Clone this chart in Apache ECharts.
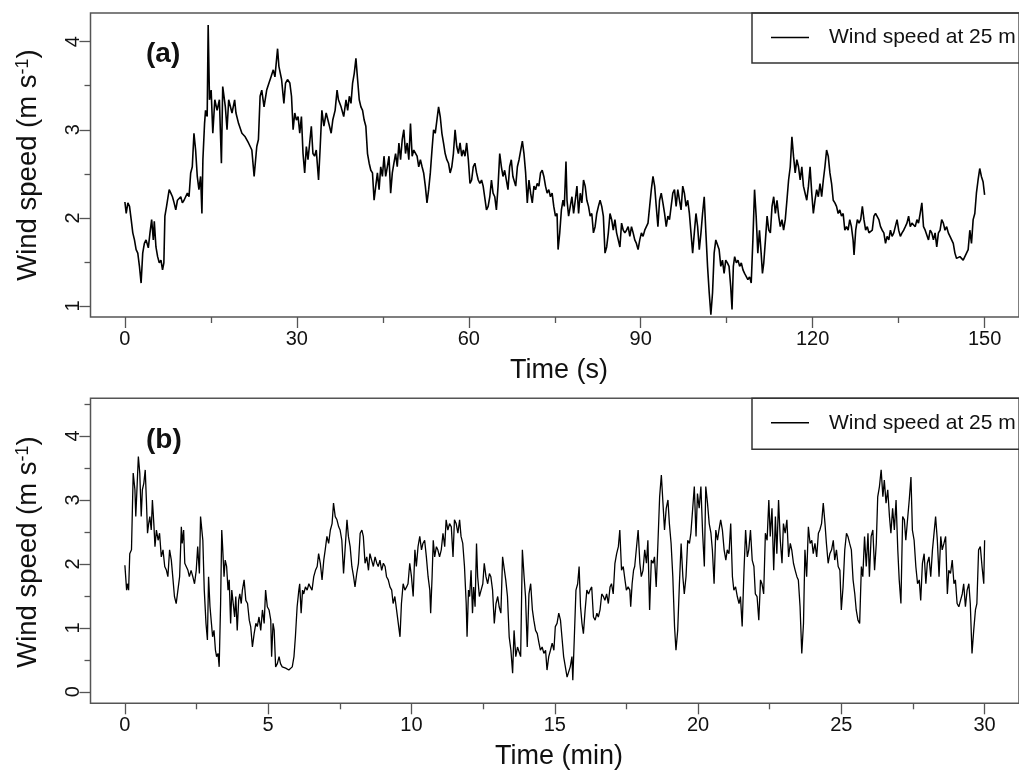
<!DOCTYPE html>
<html>
<head>
<meta charset="utf-8">
<script src="https://cdn.jsdelivr.net/npm/echarts@6/dist/echarts.min.js"></script>
<style>html,body{margin:0;padding:0;background:#fff;}#chart{width:1019px;height:770px;}</style>
</head>
<body>
<div id="chart"></div>
<script>
// ---------- data ----------
const legendName = 'Wind speed at 25 m';
const panelLabels = ['(a)', '(b)'];
const xTitles = ['Time (s)', 'Time (min)'];
const xTicksA = [0, 30, 60, 90, 120, 150];
const xMinorA = [15, 45, 75, 105, 135];
const yTicksA = [1, 2, 3, 4];
const yMinorA = [1.5, 2.5, 3.5];
const xTicksB = [0, 5, 10, 15, 20, 25, 30];
const xMinorB = [2.5, 7.5, 12.5, 17.5, 22.5, 27.5];
const yTicksB = [0, 1, 2, 3, 4];
const yMinorB = [0.5, 1.5, 2.5, 3.5, 4.5];

// panel (a): [time s, wind speed m/s]
const seriesA = [
[0,2.18],[0.23,2.05],[0.52,2.17],[0.81,2.13],[1.1,1.98],[1.38,1.83],[1.67,1.75],[1.96,1.64],[2.25,1.60],[2.54,1.45],
[2.83,1.26],[3.11,1.60],[3.4,1.71],[3.69,1.75],[4.09,1.66],[4.38,1.83],[4.67,1.98],[4.96,1.75],[5.13,1.96],[5.42,1.67],
[5.71,1.56],[6.0,1.49],[6.29,1.52],[6.57,1.41],[6.8,1.49],[6.98,2.02],[7.27,2.13],[7.44,2.20],[7.73,2.32],[8.02,2.28],
[8.3,2.24],[8.59,2.17],[8.88,2.09],[9.17,2.20],[9.46,2.19],[9.75,2.24],[10.03,2.17],[10.32,2.20],[10.61,2.20],[10.9,2.28],
[11.19,2.24],[11.48,2.51],[11.76,2.58],[12.05,2.96],[12.34,2.77],[12.63,2.47],[12.92,2.32],[13.21,2.47],[13.44,2.05],[13.61,2.66],
[13.9,3.07],[14.07,3.22],[14.36,3.15],[14.53,4.19],[14.76,3.34],[15.05,3.45],[15.34,2.96],[15.69,3.34],[16.09,3.22],[16.49,3.34],
[16.84,2.62],[17.07,3.49],[17.53,3.26],[17.82,3.00],[18.11,3.34],[18.69,3.19],[19.15,3.34],[19.38,3.19],[19.84,3.07],[20.42,2.96],
[20.99,2.92],[21.57,2.85],[22.15,2.77],[22.55,2.47],[23.01,2.81],[23.3,2.89],[23.59,3.38],[23.88,3.45],[24.28,3.26],[24.74,3.45],
[25.14,3.53],[25.49,3.60],[25.89,3.68],[26.18,3.60],[26.64,3.92],[26.87,3.72],[27.34,3.57],[27.74,3.30],[28.03,3.53],[28.37,3.57],
[28.78,3.53],[29.07,3.38],[29.35,3.00],[29.64,3.19],[29.93,3.11],[30.22,3.15],[30.51,2.96],[30.8,3.15],[31.08,2.73],[31.37,2.51],
[31.66,2.81],[31.95,2.66],[32.24,2.85],[32.53,3.04],[32.81,2.73],[33.1,2.70],[33.39,2.77],[33.79,2.43],[34.08,2.81],[34.37,3.22],
[34.72,3.04],[35.12,3.19],[35.7,3.04],[35.99,2.96],[36.27,3.11],[36.68,3.22],[37.02,3.45],[37.26,3.34],[37.72,3.26],[38.18,3.15],
[38.58,3.34],[38.87,3.22],[39.16,3.38],[39.45,3.30],[39.73,3.53],[40.02,3.64],[40.31,3.81],[40.6,3.57],[40.89,3.34],[41.18,3.26],
[41.47,3.22],[41.75,3.11],[42.04,3.04],[42.33,2.73],[42.62,2.62],[42.91,2.54],[43.2,2.51],[43.48,2.20],[43.77,2.36],[44.06,2.51],
[44.35,2.32],[44.64,2.58],[44.93,2.47],[45.21,2.70],[45.5,2.47],[45.79,2.58],[46.08,2.70],[46.37,2.28],[46.66,2.51],[46.94,2.62],
[47.23,2.73],[47.52,2.58],[47.81,2.85],[48.1,2.66],[48.39,2.89],[48.67,3.00],[48.96,2.73],[49.25,2.85],[49.54,2.66],[49.83,3.07],
[50.12,2.70],[50.4,2.77],[50.98,2.70],[51.27,2.58],[51.56,2.66],[51.85,2.58],[52.13,2.51],[52.42,2.36],[52.71,2.17],[53.0,2.32],
[53.29,2.51],[53.58,2.77],[53.86,3.00],[54.15,2.96],[54.44,3.11],[54.73,3.26],[55.02,3.15],[55.31,2.96],[55.59,2.85],[55.88,2.73],
[56.17,2.66],[56.46,2.62],[56.75,2.51],[57.04,2.58],[57.32,2.73],[57.61,3.00],[57.9,2.81],[58.19,2.73],[58.48,2.85],[58.77,2.70],
[59.05,2.77],[59.34,2.70],[59.63,2.85],[59.92,2.66],[60.21,2.39],[60.5,2.43],[60.78,2.58],[61.07,2.62],[61.36,2.51],[61.65,2.43],
[61.94,2.39],[62.23,2.43],[62.51,2.36],[62.8,2.36],[63.09,2.09],[63.38,2.13],[63.67,2.24],[63.96,2.43],[64.24,2.28],[64.53,2.24],
[64.82,2.09],[65.11,2.36],[65.4,2.73],[65.69,2.58],[65.97,2.47],[66.26,2.54],[66.55,2.43],[66.84,2.32],[67.13,2.58],[67.42,2.66],
[67.7,2.47],[68.19,2.36],[68.48,2.58],[68.77,2.66],[69.06,2.66],[69.35,2.87],[69.63,2.73],[69.92,2.51],[70.21,2.17],[70.5,2.43],
[70.79,2.28],[71.08,2.17],[71.37,2.36],[71.65,2.32],[71.94,2.39],[72.23,2.36],[72.52,2.51],[72.81,2.54],[73.1,2.47],[73.39,2.36],
[73.67,2.28],[73.96,2.32],[74.25,2.24],[74.54,2.28],[74.83,2.13],[75.12,2.02],[75.4,2.05],[75.58,1.64],[75.87,1.83],[76.16,2.09],
[76.44,2.20],[76.67,2.13],[76.96,2.64],[77.14,2.20],[77.42,2.02],[77.71,2.13],[78.0,2.24],[78.29,2.05],[78.58,2.20],[78.87,2.36],
[79.16,2.05],[79.45,2.28],[79.73,2.17],[80.02,2.43],[80.31,2.36],[80.6,2.20],[80.89,2.13],[81.18,2.02],[81.46,2.05],[81.75,1.83],
[82.04,1.90],[82.33,2.05],[82.62,2.13],[82.91,2.20],[83.2,2.13],[83.48,2.02],[83.77,1.60],[84.06,1.67],[84.35,1.83],[84.64,2.05],
[84.93,1.98],[85.21,1.86],[85.5,1.98],[85.79,1.83],[86.08,1.75],[86.37,1.67],[86.66,1.94],[86.95,1.86],[87.23,1.83],[87.52,1.86],
[87.81,1.90],[88.1,1.79],[88.39,1.90],[88.68,1.83],[88.96,1.75],[89.25,1.71],[89.54,1.64],[89.83,1.75],[90.12,1.83],[90.41,1.79],
[90.7,1.86],[90.98,1.86],[91.27,1.94],[91.56,2.13],[91.85,2.32],[92.14,2.47],[92.43,2.36],[92.71,2.13],[93.0,1.90],[93.29,2.20],
[93.58,2.28],[93.87,2.17],[94.16,2.05],[94.45,1.90],[94.74,2.02],[95.02,1.98],[95.31,2.13],[95.6,2.28],[95.89,2.32],[96.18,2.13],
[96.47,2.32],[96.76,2.20],[97.04,2.09],[97.33,2.36],[97.62,2.28],[97.91,2.13],[98.2,2.20],[98.49,2.05],[98.77,1.83],[99.06,1.60],
[99.35,1.83],[99.64,2.05],[99.93,1.90],[100.22,1.64],[100.51,1.83],[100.79,2.05],[101.08,2.24],[101.37,1.83],[101.66,1.45],[101.95,1.15],
[102.24,0.90],[102.53,1.15],[102.81,1.60],[103.1,1.75],[103.39,1.75],[103.68,1.64],[103.97,1.45],[104.26,1.52],[104.55,1.37],[104.83,1.52],
[105.12,1.49],[105.41,1.45],[105.7,1.22],[105.93,0.96],[106.16,1.45],[106.39,1.56],[106.68,1.49],[106.97,1.52],[107.26,1.45],[107.55,1.49],
[107.84,1.41],[108.12,1.37],[108.41,1.37],[108.7,1.30],[108.99,1.33],[109.28,1.26],[109.57,1.75],[109.86,2.32],[110.14,2.02],[110.43,1.60],
[110.72,1.86],[111.01,1.60],[111.24,1.37],[111.47,1.49],[111.76,1.75],[112.05,2.02],[112.34,1.86],[112.62,1.83],[112.91,2.13],[113.2,2.24],
[113.49,2.05],[113.78,2.20],[114.07,2.02],[114.35,1.90],[114.64,1.98],[114.93,1.86],[115.22,1.98],[115.51,2.20],[115.8,2.43],[116.09,2.58],
[116.38,2.92],[116.66,2.70],[116.95,2.51],[117.24,2.66],[117.53,2.58],[117.82,2.43],[118.11,2.58],[118.39,2.36],[118.68,2.28],[118.97,2.20],
[119.26,2.36],[119.55,2.58],[119.84,2.28],[120.12,2.05],[120.41,2.20],[120.7,2.32],[120.99,2.24],[121.28,2.39],[121.57,2.24],[121.86,2.43],
[122.14,2.58],[122.43,2.77],[122.72,2.70],[123.01,2.51],[123.3,2.39],[123.59,2.20],[123.88,2.17],[124.16,2.13],[124.45,2.05],[124.74,2.09],
[125.03,2.02],[125.32,2.05],[125.61,1.86],[125.9,1.90],[126.18,1.86],[126.47,1.98],[126.76,1.90],[127.05,1.75],[127.22,1.58],[127.51,1.86],
[127.8,1.98],[128.09,1.94],[128.38,1.98],[128.67,2.13],[128.95,1.98],[129.24,1.86],[129.53,1.90],[129.82,1.83],[130.11,1.83],[130.4,1.86],
[130.69,2.02],[130.97,2.05],[131.26,2.05],[131.55,1.98],[131.84,1.90],[132.13,1.86],[132.42,1.83],[132.71,1.71],[132.99,1.79],[133.28,1.75],
[133.57,1.86],[133.86,1.79],[134.15,1.83],[134.44,1.83],[134.72,1.98],[135.01,1.86],[135.3,1.79],[135.59,1.83],[135.88,1.86],[136.17,1.90],
[136.45,1.94],[136.74,2.02],[137.03,1.90],[137.32,1.94],[137.61,1.94],[137.9,1.90],[138.19,1.98],[138.47,1.94],[138.76,2.05],[139.05,2.17],
[139.34,1.90],[139.63,1.86],[139.92,1.86],[140.21,1.75],[140.5,1.86],[140.78,1.83],[141.07,1.75],[141.36,1.83],[141.65,1.67],[141.94,1.83],
[142.23,1.86],[142.51,1.98],[142.8,1.94],[143.09,1.86],[143.38,1.90],[143.67,1.83],[143.96,1.79],[144.25,1.79],[144.53,1.71],[144.82,1.60],
[145.11,1.54],[145.4,1.52],[145.69,1.56],[145.98,1.54],[146.26,1.52],[146.55,1.54],[146.84,1.60],[147.13,1.64],[147.42,1.86],[147.71,1.71],
[148.0,1.98],[148.29,2.05],[148.57,2.28],[148.86,2.43],[149.15,2.56],[149.44,2.47],[149.73,2.41],[150.0,2.26]
];

// panel (b): [time min, wind speed m/s]
const seriesB = [
[0,1.98],[0.06,1.59],[0.09,1.69],[0.13,1.59],[0.17,2.16],[0.23,2.22],[0.29,3.42],[0.35,3.16],[0.38,2.74],[0.43,3.26],
[0.47,3.68],[0.52,3.42],[0.57,2.74],[0.61,3.16],[0.66,3.26],[0.71,3.47],[0.75,3.00],[0.79,2.48],[0.83,2.63],[0.87,2.74],
[0.92,2.53],[0.96,3.00],[1.01,2.63],[1.05,2.27],[1.10,2.53],[1.16,2.37],[1.21,2.48],[1.27,2.11],[1.33,2.22],[1.39,1.96],
[1.45,1.90],[1.50,1.80],[1.56,2.22],[1.62,2.06],[1.68,1.75],[1.73,1.49],[1.79,1.38],[1.85,1.59],[1.91,1.80],[1.97,2.58],
[2.00,2.32],[2.05,2.53],[2.09,2.01],[2.14,1.96],[2.20,1.90],[2.25,1.80],[2.31,1.90],[2.37,1.80],[2.43,1.69],[2.49,1.90],
[2.54,2.27],[2.60,1.85],[2.64,2.74],[2.67,2.76],[2.72,2.37],[2.77,1.59],[2.83,1.07],[2.88,0.81],[2.92,1.80],[2.97,1.33],
[3.02,1.07],[3.06,0.86],[3.11,0.96],[3.16,0.65],[3.20,0.55],[3.25,0.60],[3.29,0.39],[3.34,1.38],[3.38,2.53],[3.41,2.27],
[3.46,1.80],[3.50,2.06],[3.55,1.96],[3.60,1.59],[3.64,1.75],[3.69,1.07],[3.73,1.59],[3.78,1.38],[3.83,1.17],[3.87,1.49],
[3.92,0.96],[3.97,1.43],[4.01,1.53],[4.06,1.38],[4.10,1.59],[4.16,1.75],[4.22,1.43],[4.28,1.38],[4.34,1.12],[4.39,1.02],
[4.45,0.70],[4.51,0.91],[4.57,1.07],[4.62,1.02],[4.68,1.17],[4.74,0.96],[4.80,1.28],[4.86,1.07],[4.91,1.59],[4.97,1.33],
[5.03,1.28],[5.09,1.12],[5.12,0.55],[5.17,1.07],[5.21,0.96],[5.26,0.39],[5.32,0.44],[5.38,0.55],[5.43,0.44],[5.49,0.39],
[5.55,0.39],[5.61,0.37],[5.66,0.37],[5.72,0.34],[5.78,0.34],[5.84,0.39],[5.90,0.55],[5.95,0.86],[6.01,1.33],[6.07,1.59],
[6.10,1.69],[6.15,1.23],[6.20,1.59],[6.24,1.53],[6.30,1.64],[6.36,1.59],[6.42,1.69],[6.47,1.64],[6.53,1.59],[6.59,1.80],
[6.65,1.90],[6.71,1.96],[6.76,2.16],[6.82,2.01],[6.88,1.75],[6.94,2.06],[6.99,2.22],[7.05,2.43],[7.11,2.32],[7.17,2.53],
[7.23,2.63],[7.28,2.95],[7.34,2.74],[7.40,2.69],[7.46,2.58],[7.51,2.53],[7.57,2.37],[7.63,1.85],[7.69,2.27],[7.75,2.69],
[7.80,2.43],[7.86,2.27],[7.92,1.96],[7.98,1.80],[8.03,1.64],[8.09,1.85],[8.15,2.01],[8.21,2.48],[8.27,2.53],[8.32,2.43],
[8.38,2.01],[8.44,2.11],[8.50,1.90],[8.55,2.16],[8.61,2.06],[8.67,1.96],[8.73,2.11],[8.79,2.01],[8.84,1.96],[8.90,2.06],
[8.96,1.90],[9.02,2.01],[9.08,1.96],[9.13,1.80],[9.19,1.75],[9.25,1.64],[9.31,1.59],[9.36,1.38],[9.42,1.49],[9.48,1.28],
[9.54,1.07],[9.60,0.86],[9.65,1.38],[9.71,1.69],[9.77,1.59],[9.83,1.64],[9.88,1.69],[9.94,2.01],[10.00,1.80],[10.06,1.49],
[10.12,2.22],[10.17,1.96],[10.23,2.27],[10.29,2.43],[10.35,2.22],[10.40,2.32],[10.46,2.37],[10.52,2.11],[10.58,1.80],[10.64,1.59],
[10.67,1.23],[10.72,1.80],[10.76,2.37],[10.81,2.11],[10.87,2.27],[10.92,2.22],[10.98,2.11],[11.04,2.22],[11.10,2.48],[11.16,2.27],
[11.21,2.69],[11.27,2.53],[11.33,2.63],[11.39,2.58],[11.45,2.11],[11.50,2.69],[11.56,2.63],[11.62,2.48],[11.68,2.69],[11.73,2.43],
[11.79,2.32],[11.85,1.96],[11.91,1.38],[11.94,0.86],[11.99,1.59],[12.03,1.49],[12.08,1.90],[12.13,1.23],[12.17,1.64],[12.22,1.33],
[12.27,2.32],[12.31,1.80],[12.37,1.49],[12.43,1.59],[12.49,1.69],[12.54,2.01],[12.60,1.80],[12.66,1.69],[12.72,1.85],[12.77,1.80],
[12.83,1.59],[12.89,1.07],[12.95,1.38],[13.01,1.49],[13.06,1.33],[13.12,1.23],[13.18,2.11],[13.24,2.09],[13.29,1.75],[13.35,1.49],
[13.41,0.86],[13.47,0.65],[13.53,0.29],[13.58,0.96],[13.64,0.55],[13.70,0.70],[13.75,0.70],[13.81,0.55],[13.87,2.22],[13.93,1.80],
[13.98,1.49],[14.04,0.70],[14.10,1.53],[14.16,1.69],[14.22,1.28],[14.27,1.12],[14.33,0.96],[14.39,0.91],[14.45,0.76],[14.50,0.65],
[14.56,0.70],[14.62,0.60],[14.68,0.65],[14.73,0.34],[14.79,0.55],[14.85,0.65],[14.91,0.76],[14.97,0.65],[15.02,1.02],[15.08,1.07],
[15.14,1.23],[15.20,1.12],[15.25,0.86],[15.31,0.55],[15.37,0.39],[15.43,0.23],[15.48,0.23],[15.54,0.39],[15.60,0.55],[15.63,0.18],
[15.68,0.81],[15.74,1.59],[15.80,1.69],[15.85,1.96],[15.90,1.33],[15.95,1.07],[16.00,0.91],[16.06,1.28],[16.12,1.59],[16.18,1.53],
[16.23,1.59],[16.29,1.64],[16.35,1.17],[16.41,1.12],[16.47,1.23],[16.52,1.17],[16.58,1.28],[16.64,1.53],[16.70,1.49],[16.75,1.43],
[16.81,1.53],[16.87,1.38],[16.93,1.64],[16.98,1.69],[17.04,1.53],[17.10,2.01],[17.16,2.16],[17.22,2.27],[17.27,2.53],[17.33,1.90],
[17.39,1.96],[17.45,1.75],[17.50,1.59],[17.56,1.64],[17.62,1.59],[17.65,1.33],[17.70,1.69],[17.75,1.90],[17.79,1.96],[17.85,1.96],
[17.91,2.53],[17.97,2.01],[18.02,1.80],[18.08,1.90],[18.14,2.22],[18.20,2.01],[18.25,2.37],[18.31,1.28],[18.37,2.06],[18.43,2.01],
[18.48,2.11],[18.54,1.64],[18.60,2.32],[18.66,3.05],[18.72,3.39],[18.77,3.00],[18.83,2.53],[18.89,2.87],[18.95,3.00],[19.00,2.63],
[19.06,2.32],[19.12,1.80],[19.18,1.02],[19.23,0.65],[19.29,0.96],[19.35,1.69],[19.41,2.32],[19.47,1.80],[19.52,1.53],[19.58,1.80],
[19.64,2.37],[19.70,2.32],[19.75,2.48],[19.81,2.48],[19.87,3.21],[19.93,2.43],[19.98,3.10],[20.04,2.87],[20.10,3.21],[20.16,2.48],
[20.22,1.96],[20.27,3.21],[20.33,2.95],[20.39,2.63],[20.45,2.48],[20.50,2.22],[20.56,1.69],[20.62,2.53],[20.68,2.37],[20.73,2.53],
[20.79,2.69],[20.85,2.53],[20.91,2.22],[20.97,2.06],[21.02,2.22],[21.08,2.16],[21.14,2.63],[21.20,1.80],[21.25,1.59],[21.31,1.64],
[21.37,1.49],[21.43,1.38],[21.48,1.49],[21.54,1.02],[21.60,1.85],[21.66,2.53],[21.72,2.11],[21.77,2.22],[21.83,2.53],[21.89,2.06],
[21.95,1.96],[22.00,1.53],[22.06,1.49],[22.12,1.12],[22.18,1.75],[22.23,1.69],[22.29,1.53],[22.35,2.48],[22.41,2.37],[22.47,3.00],
[22.52,2.43],[22.58,2.87],[22.64,1.90],[22.70,2.74],[22.75,2.16],[22.81,3.00],[22.87,2.37],[22.93,2.01],[22.98,2.63],[23.04,2.48],
[23.10,2.69],[23.16,2.11],[23.22,2.32],[23.27,2.22],[23.33,2.01],[23.39,1.90],[23.45,1.80],[23.50,1.75],[23.56,1.33],[23.62,0.60],
[23.68,1.07],[23.73,2.22],[23.79,1.80],[23.85,2.58],[23.91,2.32],[23.97,2.37],[24.02,2.16],[24.08,2.32],[24.14,2.11],[24.20,2.48],
[24.25,2.53],[24.31,2.63],[24.37,2.95],[24.43,2.63],[24.48,2.32],[24.54,2.01],[24.60,2.16],[24.66,2.22],[24.72,2.37],[24.77,2.06],
[24.83,2.22],[24.89,1.96],[24.95,1.90],[25.00,1.28],[25.06,1.64],[25.12,2.22],[25.18,2.48],[25.23,2.43],[25.29,2.32],[25.35,2.22],
[25.41,1.75],[25.47,1.53],[25.52,1.28],[25.58,1.12],[25.64,1.07],[25.70,1.96],[25.75,1.80],[25.81,2.43],[25.87,1.96],[25.93,2.48],
[25.98,1.80],[26.04,2.43],[26.10,2.53],[26.16,1.90],[26.22,2.32],[26.27,3.05],[26.33,3.21],[26.39,3.47],[26.45,3.05],[26.50,3.31],
[26.56,2.95],[26.62,3.16],[26.68,2.74],[26.73,2.48],[26.79,2.87],[26.85,2.53],[26.91,3.00],[26.97,2.22],[27.02,1.75],[27.08,1.38],
[27.14,2.74],[27.20,2.69],[27.25,2.37],[27.31,2.69],[27.37,3.00],[27.43,3.36],[27.48,2.53],[27.54,2.37],[27.60,1.96],[27.66,1.69],
[27.72,1.75],[27.77,1.43],[27.83,2.01],[27.89,2.16],[27.95,1.69],[28.00,2.01],[28.06,2.11],[28.12,1.80],[28.18,2.22],[28.23,2.22],
[28.29,2.74],[28.35,2.37],[28.41,1.80],[28.47,2.43],[28.52,2.22],[28.58,2.32],[28.64,2.43],[28.70,1.53],[28.75,1.90],[28.81,1.85],
[28.87,2.06],[28.93,1.69],[28.98,1.75],[29.04,1.38],[29.10,1.33],[29.16,1.43],[29.22,1.53],[29.27,1.69],[29.33,1.33],[29.39,1.59],
[29.45,1.69],[29.50,1.38],[29.56,0.60],[29.62,0.96],[29.68,1.28],[29.73,1.38],[29.79,2.22],[29.85,2.27],[29.91,1.96],[29.97,1.69],
[30.0,2.37]
];

// ---------- chart ----------
const FONT = '"Liberation Sans", Arial, Helvetica, sans-serif';
const FRAME = '#555';
const TXT = '#111';

function xAx(grid, min, max, values, major) {
  return {
    type: 'value', gridIndex: grid, min: min, max: max, position: 'bottom',
    axisLine: { show: false, onZero: false }, splitLine: { show: false },
    axisTick: { show: true, customValues: values, length: major ? 11 : 6, lineStyle: { color: FRAME, width: 1.3 } },
    axisLabel: major ? { show: true, customValues: values, fontSize: 20, color: TXT, fontFamily: FONT, margin: 12 } : { show: false }
  };
}
function yAx(grid, min, max, values, major) {
  return {
    type: 'value', gridIndex: grid, min: min, max: max, position: 'left',
    axisLine: { show: false, onZero: false }, splitLine: { show: false },
    axisTick: { show: true, customValues: values, length: major ? 11 : 6, lineStyle: { color: FRAME, width: 1.3 } },
    axisLabel: major ? { show: true, customValues: values, rotate: 90, fontSize: 20, color: TXT, fontFamily: FONT, margin: 7 } : { show: false }
  };
}
function legendAt(top) {
  return {
    left: 752, top: top, orient: 'horizontal', data: [legendName], selectedMode: false,
    icon: 'rect', itemWidth: 38, itemHeight: 1.5,
    padding: [14, 10, 14, 19], borderWidth: 0,
    textStyle: { fontSize: 21, color: TXT, fontFamily: FONT, padding: [0, 0, 0, 15] }
  };
}
function legendBox(top, h) {
  return { type: 'rect', shape: { x: 752, y: top, width: 420, height: h },
    style: { fill: 'none', stroke: '#333', lineWidth: 1.5 }, silent: true };
}
function yTitle(y) {
  return {
    type: 'text', x: 28, y: y, rotation: Math.PI / 2,
    style: {
      text: '{a|Wind speed (m s}{b|-1}{a|)}', align: 'center', verticalAlign: 'middle',
      rich: {
        a: { fontSize: 27.5, fontFamily: FONT, fill: TXT },
        b: { fontSize: 18, fontFamily: FONT, fill: TXT, verticalAlign: 'top' }
      }
    }
  };
}

const chart = echarts.init(document.getElementById('chart'), null, { renderer: 'canvas' });
chart.setOption({
  animation: false,
  backgroundColor: '#fff',
  textStyle: { fontFamily: FONT },
  grid: [
    { left: 90.5, top: 13, width: 936.5, height: 304, show: true, borderColor: FRAME, borderWidth: 1.5, backgroundColor: 'transparent' },
    { left: 90.5, top: 398.3, width: 936.5, height: 305, show: true, borderColor: FRAME, borderWidth: 1.5, backgroundColor: 'transparent' }
  ],
  xAxis: [
    xAx(0, -6, 156, xTicksA, true), xAx(0, -6, 156, xMinorA, false),
    xAx(1, -1.2, 31.2, xTicksB, true), xAx(1, -1.2, 31.2, xMinorB, false)
  ],
  yAxis: [
    yAx(0, 0.875, 4.325, yTicksA, true), yAx(0, 0.875, 4.325, yMinorA, false),
    yAx(1, -0.18, 4.59, yTicksB, true), yAx(1, -0.18, 4.59, yMinorB, false)
  ],
  legend: [legendAt(13), legendAt(398.3)],
  series: [
    { name: legendName, type: 'line', xAxisIndex: 0, yAxisIndex: 0, data: seriesA, showSymbol: false, symbol: 'none',
      color: '#000', lineStyle: { color: '#000', width: 1.6 }, silent: true },
    { name: legendName, type: 'line', xAxisIndex: 2, yAxisIndex: 2, data: seriesB, showSymbol: false, symbol: 'none',
      color: '#000', lineStyle: { color: '#000', width: 1.3 }, silent: true }
  ],
  graphic: [
    legendBox(13, 50),
    legendBox(398.3, 51),
    { type: 'text', x: 146, y: 54, style: { text: panelLabels[0], font: 'bold 28px ' + FONT, fill: TXT, align: 'left', verticalAlign: 'middle' } },
    { type: 'text', x: 146, y: 440, style: { text: panelLabels[1], font: 'bold 28px ' + FONT, fill: TXT, align: 'left', verticalAlign: 'middle' } },
    { type: 'text', x: 559, y: 371, style: { text: xTitles[0], font: '27px ' + FONT, fill: TXT, align: 'center', verticalAlign: 'middle' } },
    { type: 'text', x: 559, y: 757, style: { text: xTitles[1], font: '27px ' + FONT, fill: TXT, align: 'center', verticalAlign: 'middle' } },
    yTitle(165),
    yTitle(552)
  ]
});
</script>
</body>
</html>
